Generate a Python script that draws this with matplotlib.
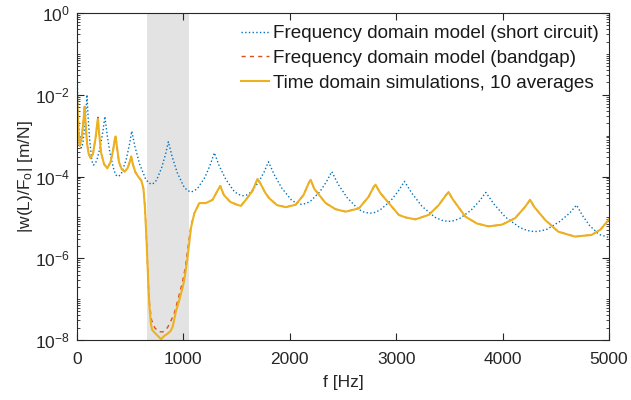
import numpy as np
import matplotlib
matplotlib.use("Agg")
import matplotlib.pyplot as plt
from matplotlib.ticker import FixedLocator, LogLocator, NullFormatter

plt.rcParams['font.family'] = ['Liberation Sans', 'DejaVu Sans']
plt.rcParams['mathtext.fontset'] = 'custom'
plt.rcParams['mathtext.rm'] = 'Liberation Sans'
plt.rcParams['mathtext.it'] = 'Liberation Sans:italic'

# ---- data (magnitudes given as log10 values) ----
bandgap_lo = 660
bandgap_hi = 1057

short_f = [0, 8, 20, 30, 40, 48, 56, 72, 85, 94, 104, 118, 137, 146, 155, 171, 187, 219, 244,
           262, 283, 311, 348, 366, 385, 405, 424, 463, 493, 515, 546, 589, 645, 672, 700, 724,
           748, 795, 832, 859, 895, 943, 1007, 1038, 1070, 1103, 1136, 1203, 1253, 1291, 1337,
           1399, 1479, 1520, 1560, 1596, 1632, 1704, 1759, 1800, 1853, 1924, 2017, 2063, 2110,
           2153, 2196, 2281, 2347, 2395, 2455, 2537, 2644, 2697, 2750, 2799, 2848, 2947, 3022,
           3078, 3148, 3243, 3367, 3428, 3490, 3543, 3596, 3702, 3783, 3843, 3921, 4026, 4163,
           4231, 4300, 4360, 4419, 4538, 4629, 4696, 4748, 4818, 4909, 5000]
short_log = [-1.3, -2.2, -2.9, -3.15, -3.3, -3.26, -3.17, -2.81, -2.39, -2.0, -2.52, -3.07,
             -3.55, -3.67, -3.72, -3.68, -3.60, -3.27, -2.89, -2.53, -2.97, -3.44, -3.85, -3.96,
             -4.0, -3.97, -3.89, -3.58, -3.22, -2.89, -3.28, -3.70, -4.06, -4.15, -4.19, -4.16,
             -4.09, -3.79, -3.46, -3.15, -3.52, -3.91, -4.26, -4.34, -4.38, -4.35, -4.28, -4.02,
             -3.71, -3.42, -3.74, -4.07, -4.37, -4.44, -4.47, -4.45, -4.39, -4.15, -3.89, -3.64,
             -3.95, -4.28, -4.58, -4.65, -4.68, -4.66, -4.60, -4.38, -4.12, -3.88, -4.19, -4.51,
             -4.80, -4.87, -4.90, -4.88, -4.82, -4.60, -4.35, -4.12, -4.41, -4.73, -5.00, -5.07,
             -5.10, -5.08, -5.03, -4.83, -4.60, -4.39, -4.68, -4.99, -5.25, -5.32, -5.35, -5.33,
             -5.29, -5.10, -4.90, -4.70, -4.94, -5.20, -5.42, -5.49]

gap_f = [0, 12, 25, 45, 62, 72, 82, 95, 110, 128, 150, 175, 190, 197, 205, 225, 255, 285, 315,
         340, 355, 363, 372, 395, 420, 447, 475, 495, 510, 525, 550, 575, 605, 625, 640, 656,
         670, 681, 700, 730, 770, 810, 850, 880, 916, 950, 990, 1020, 1050, 1072, 1103, 1150,
         1212, 1275, 1320, 1347, 1380, 1440, 1494, 1540, 1588, 1650, 1697, 1720, 1770, 1806,
         1880, 1962, 2056, 2130, 2180, 2197, 2230, 2337, 2430, 2525, 2650, 2740, 2790, 2806,
         2850, 2931, 3025, 3087, 3181, 3306, 3400, 3470, 3493, 3530, 3650, 3760, 3868, 3993,
         4118, 4210, 4259, 4300, 4400, 4524, 4681, 4837, 4920, 5000]
gap_log = [-1.95, -2.8, -3.25, -3.05, -2.6, -2.29, -2.75, -3.2, -3.45, -3.55, -3.45, -3.05, -2.7,
           -2.55, -2.85, -3.4, -3.7, -3.8, -3.65, -3.35, -3.1, -3.02, -3.2, -3.65, -3.82, -3.88,
           -3.8, -3.65, -3.51, -3.7, -3.9, -4.0, -4.1, -4.3, -4.8, -5.7, -6.6, -7.1, -7.5, -7.7,
           -7.8, -7.8, -7.7, -7.55, -7.33, -7.0, -6.6, -6.2, -5.6, -5.2, -4.9, -4.65, -4.65,
           -4.57, -4.35, -4.23, -4.45, -4.62, -4.68, -4.72, -4.57, -4.35, -4.06, -4.15, -4.4,
           -4.53, -4.7, -4.75, -4.69, -4.45, -4.15, -4.08, -4.3, -4.65, -4.8, -4.86, -4.78, -4.5,
           -4.25, -4.2, -4.4, -4.65, -4.94, -5.0, -5.05, -4.94, -4.7, -4.45, -4.38, -4.55, -4.98,
           -5.15, -5.22, -5.18, -5.02, -4.75, -4.57, -4.75, -5.06, -5.35, -5.47, -5.43, -5.3, -5.05]

time_f = [0, 12, 25, 45, 62, 72, 82, 95, 110, 128, 150, 175, 190, 197, 205, 225, 255, 285, 315,
          340, 355, 363, 372, 395, 420, 447, 475, 495, 510, 525, 550, 575, 605, 625, 640, 656,
          670, 681, 695, 706, 730, 760, 791, 820, 850, 880, 900, 930, 962, 990, 1009, 1040, 1072,
          1103, 1150, 1212, 1275, 1320, 1347, 1380, 1440, 1494, 1540, 1588, 1650, 1697, 1720,
          1770, 1806, 1880, 1962, 2056, 2130, 2180, 2197, 2230, 2337, 2430, 2525, 2650, 2740,
          2790, 2806, 2850, 2931, 3025, 3087, 3181, 3306, 3400, 3470, 3493, 3530, 3650, 3760,
          3868, 3993, 4118, 4210, 4259, 4300, 4400, 4524, 4681, 4837, 4920, 5000]
time_log = [-1.95, -2.8, -3.25, -3.05, -2.6, -2.29, -2.75, -3.2, -3.45, -3.55, -3.45, -3.05, -2.7,
            -2.6, -2.85, -3.4, -3.7, -3.8, -3.65, -3.35, -3.1, -3.02, -3.2, -3.65, -3.82, -3.88,
            -3.8, -3.65, -3.51, -3.7, -3.9, -4.0, -4.1, -4.3, -4.8, -5.7, -6.6, -7.18, -7.6,
            -7.75, -7.82, -7.9, -7.98, -7.9, -7.85, -7.78, -7.67, -7.3, -7.02, -6.75, -6.53,
            -5.96, -5.25, -4.9, -4.65, -4.65, -4.57, -4.35, -4.23, -4.45, -4.62, -4.68, -4.72,
            -4.57, -4.35, -4.06, -4.15, -4.4, -4.53, -4.7, -4.75, -4.69, -4.45, -4.15, -4.08,
            -4.3, -4.65, -4.8, -4.86, -4.78, -4.5, -4.25, -4.2, -4.4, -4.65, -4.94, -5.0, -5.05,
            -4.94, -4.7, -4.45, -4.38, -4.55, -4.98, -5.15, -5.22, -5.18, -5.02, -4.75, -4.57,
            -4.75, -5.06, -5.35, -5.47, -5.43, -5.3, -5.05]

labels = ["Frequency domain model (short circuit)",
          "Frequency domain model (bandgap)",
          "Time domain simulations, 10 averages"]
x_ticks = [0, 1000, 2000, 3000, 4000, 5000]
y_major = [1e-8, 1e-6, 1e-4, 1e-2, 1e0]

# ---- plot ----
fig = plt.figure(figsize=(6.31, 4.0), dpi=100)
ax = fig.add_axes([0.122, 0.15, 0.843, 0.8175])

ax.axvspan(bandgap_lo, bandgap_hi, color='#e3e3e3', lw=0, zorder=0)

ax.plot(short_f, 10.0 ** np.array(short_log), ls=':', color='#0072BD', lw=1.0, label=labels[0])
ax.plot(gap_f, 10.0 ** np.array(gap_log), ls='--', color='#D95319', lw=1.0, label=labels[1],
        dashes=(3, 3))
ax.plot(time_f, 10.0 ** np.array(time_log), ls='-', color='#EDB120', lw=1.5, label=labels[2])

ax.set_yscale('log')
ax.set_xlim(0, 5000)
ax.set_ylim(1e-8, 1e0)
ax.xaxis.set_major_locator(FixedLocator(x_ticks))
ax.yaxis.set_major_locator(FixedLocator(y_major))
ax.yaxis.set_minor_locator(LogLocator(base=10, subs=np.arange(1, 10), numticks=50))
ax.yaxis.set_minor_formatter(NullFormatter())
ax.set_yticklabels([r'$10^{%d}$' % int(np.log10(v)) for v in y_major])

ax.tick_params(which='both', direction='in', top=True, right=True, labelsize=12.5,
               colors='#262626')
ax.tick_params(which='major', length=5, width=0.8)
ax.tick_params(which='minor', length=2.5, width=0.6)
ax.tick_params(axis='x', pad=8.5)
ax.tick_params(axis='y', pad=5)
for s in ax.spines.values():
    s.set_color('#262626')
    s.set_linewidth(0.8)

ax.set_xlabel('f [Hz]', fontsize=12.5, color='#262626', labelpad=6)
ax.set_ylabel(r'|w(L)/F$_\mathrm{o}$| [m/N]', fontsize=12.5, color='#262626', labelpad=0)

leg = ax.legend(loc='upper right', frameon=False, fontsize=13.6, handlelength=1.5,
                handletextpad=0.2, labelspacing=0.4, borderaxespad=0.2, borderpad=0.35,
                bbox_to_anchor=(1.0, 0.995))
for t in leg.get_texts():
    t.set_color('#1a1a1a')

fig.savefig('out.png', dpi=100)
